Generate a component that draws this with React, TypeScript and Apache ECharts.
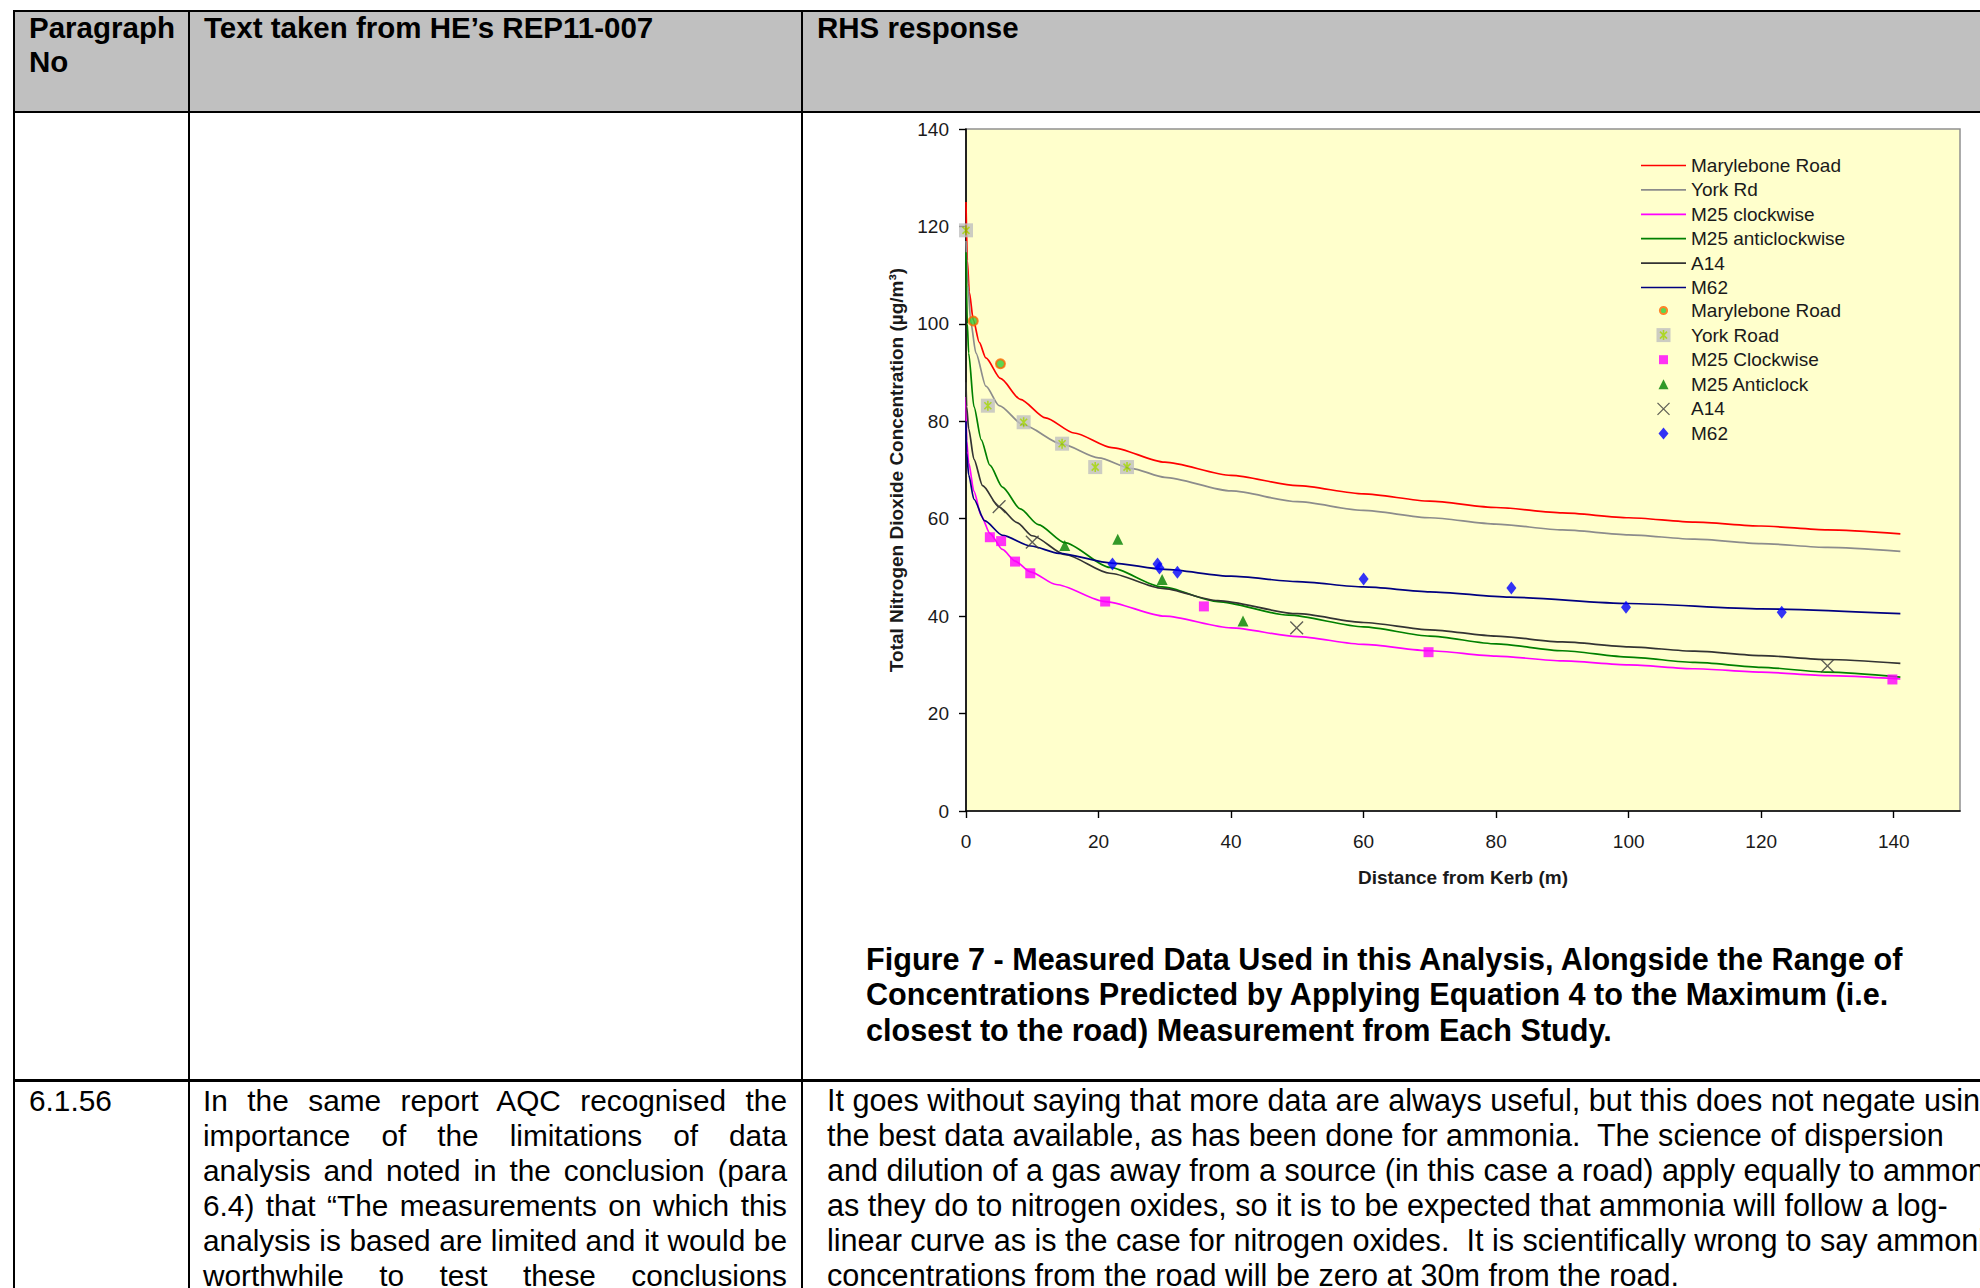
import React, { useEffect, useRef } from 'react';
import * as echarts from 'echarts';

const FONT = '"Liberation Sans", Arial, Helvetica, sans-serif';

// ---- chart data ----
const xTicks = [0, 20, 40, 60, 80, 100, 120, 140];
const lineNames = ['Marylebone Road', 'York Rd', 'M25 clockwise', 'M25 anticlockwise', 'A14', 'M62'];
const pointNames = ['Marylebone Road', 'York Road', 'M25 Clockwise', 'M25 Anticlock', 'A14', 'M62'];

const marylebCurve = [[0, 125], [0.2, 113], [0.5, 106.5], [1.1, 100.8], [2, 96.2], [3, 93], [5.2, 88.8], [8.2, 84.5], [12, 80.7], [16.3, 77.6], [22, 74.6], [30, 71.6], [40, 68.9], [50, 66.8], [60, 65.1], [70, 63.6], [80, 62.3], [90, 61.2], [100, 60.2], [110, 59.3], [120, 58.5], [130, 57.7], [141, 56.9]];
const yorkCurve = [[0, 117], [0.3, 108], [0.7, 100.5], [1.5, 94], [3, 87.2], [5, 83.2], [8.7, 79.2], [14.5, 75.3], [20, 72.5], [25, 70.3], [30, 68.5], [40, 65.7], [50, 63.5], [60, 61.7], [70, 60.2], [80, 58.9], [90, 57.7], [100, 56.7], [110, 55.8], [120, 54.9], [130, 54.1], [141, 53.3]];
const m25cwCurve = [[0, 85], [0.1, 76], [0.4, 71.5], [1.2, 65.6], [2.3, 60.6], [3.6, 57], [5.5, 53.7], [7.4, 51.3], [9.7, 49.1], [13.6, 46.5], [21, 43], [30, 40], [40, 37.6], [50, 35.8], [60, 34.2], [70, 32.9], [80, 31.8], [90, 30.8], [100, 30], [110, 29.2], [120, 28.5], [130, 27.8], [141, 27.1]];
const m25acwCurve = [[0, 114.7], [0.2, 100], [0.4, 94], [1.2, 83], [2.3, 76.2], [3.6, 71], [5.5, 66.5], [8.2, 62], [10.9, 58.8], [14.9, 55.1], [21.7, 50], [29.6, 46], [38, 43], [48.7, 40.2], [60, 37.8], [70, 35.9], [80, 34.3], [90, 32.9], [100, 31.6], [110, 30.5], [120, 29.5], [130, 28.5], [141, 27.5]];
const a14Curve = [[0, 88], [0.1, 83], [0.4, 78.5], [1.2, 72.2], [2.5, 66.8], [5, 62.4], [7.7, 59.2], [10, 56.5], [15, 52.6], [21.7, 48.8], [29.6, 45.7], [38, 43.2], [50, 40.5], [60, 38.7], [70, 37.2], [80, 35.9], [90, 34.7], [100, 33.7], [110, 32.8], [120, 31.9], [130, 31.1], [141, 30.3]];
const m62Curve = [[0, 80], [0.1, 73.5], [0.4, 69], [1.2, 64], [2.8, 59.6], [5.5, 56.6], [9.8, 54.4], [14, 52.9], [22, 50.9], [30, 49.6], [40, 48.2], [50, 47.1], [60, 46], [70, 45], [82, 43.9], [100, 42.6], [120, 41.5], [141, 40.5]];

const marylebPts = [[1.1, 100.6], [5.2, 91.8]];
const yorkPts = [[0, 119.2], [3.3, 83.2], [8.7, 79.8], [14.5, 75.4], [19.5, 70.6], [24.3, 70.6]];
const m25cwPts = [[3.6, 56.2], [5.3, 55.4], [7.4, 51.2], [9.7, 48.8], [21, 43], [35.9, 42], [69.8, 32.6], [139.8, 27]];
const m25acwPts = [[14.9, 54.5], [22.9, 55.8], [29.6, 47.5], [41.8, 39]];
const a14Pts = [[5, 62.5], [10, 55.2], [49.9, 37.6], [130, 29.8]];
const m62Pts = [[22.1, 50.7], [28.9, 50.7], [29.2, 49.9], [31.9, 49], [60, 47.6], [82.3, 45.8], [99.6, 41.8], [123.1, 40.8]];

const lineColors = ['#FF0000', '#8C8C8C', '#FF00FF', '#008000', '#333333', '#000080'];
const curves = [marylebCurve, yorkCurve, m25cwCurve, m25acwCurve, a14Curve, m62Curve];

// ---- document text ----
const captionLines = [
  'Figure 7 - Measured Data Used in this Analysis, Alongside the Range of',
  'Concentrations Predicted by Applying Equation 4 to the Maximum (i.e.',
  'closest to the road) Measurement from Each Study.',
];
const col2Lines = [
  'In the same report AQC recognised the',
  'importance of the limitations of data',
  'analysis and noted in the conclusion (para',
  '6.4) that \u201CThe measurements on which this',
  'analysis is based are limited and it would be',
  'worthwhile to test these conclusions',
];
const col3Lines = [
  'It goes without saying that more data are always useful, but this does not negate using',
  'the best data available, as has been done for ammonia.  The science of dispersion',
  'and dilution of a gas away from a source (in this case a road) apply equally to ammonia',
  'as they do to nitrogen oxides, so it is to be expected that ammonia will follow a log-',
  'linear curve as is the case for nitrogen oxides.  It is scientifically wrong to say ammonia',
  'concentrations from the road will be zero at 30m from the road.',
];

const svgUri = (w: number, h: number, body: string) =>
  'image://data:image/svg+xml;charset=utf-8,' +
  encodeURIComponent(`<svg xmlns="http://www.w3.org/2000/svg" width="${w}" height="${h}" viewBox="0 0 ${w} ${h}">` + body + '</svg>');

const yorkIcon = svgUri(16, 16, '<rect x="1" y="1" width="14" height="14" fill="#C0C0C0"/><path d="M4.5 4.5L11.5 11.5M11.5 4.5L4.5 11.5M8 3V13" stroke="#99CC00" stroke-width="1.6" fill="none"/>');
const a14Icon = svgUri(16, 16, '<path d="M2 2L14 14M14 2L2 14" stroke="#3a3a3a" stroke-width="1.3" fill="none"/>');
const maryIcon = svgUri(16, 16, '<circle cx="8" cy="8" r="3.6" fill="#33CC33" stroke="#FF6600" stroke-width="2"/>');
const cwIcon = svgUri(16, 16, '<rect x="3.5" y="3.5" width="9" height="9" fill="#FF00FF"/>');
const acwIcon = svgUri(16, 16, '<path d="M8 3L13 13H3Z" fill="#008000"/>');
const m62Icon = svgUri(16, 16, '<path d="M8 2L13 8L8 14L3 8Z" fill="#0000FF"/>');
const pointIcons = [maryIcon, yorkIcon, cwIcon, acwIcon, a14Icon, m62Icon];
const lineIcon = (c: string) => svgUri(45, 14, `<line x1="0" y1="7" x2="45" y2="7" stroke="${c}" stroke-width="1.7"/>`);

function Chart() {
  const ref = useRef<HTMLDivElement>(null);
  useEffect(() => {
    if (!ref.current) return;
    const chart = echarts.init(ref.current, undefined, { renderer: 'svg' });
    const textColor = '#1a1a1a';
    const lineSeries = lineNames.map((n, i) => ({
      name: n,
      type: 'line',
      data: curves[i],
      symbol: 'none',
      smooth: 0.25,
      smoothMonotone: 'x',
      lineStyle: { color: lineColors[i], width: 1.7 },
      itemStyle: { color: lineColors[i] },
      z: 2,
    }));
    const P = 'pt:';
    const scatterSeries = [
      { name: P + pointNames[0], type: 'scatter', data: marylebPts, symbol: 'circle', symbolSize: 9, itemStyle: { color: '#33CC33', borderColor: '#FF6600', borderWidth: 2 } },
      { name: P + pointNames[1], type: 'scatter', data: yorkPts, symbol: yorkIcon, symbolSize: 16, itemStyle: { color: '#C0C0C0' } },
      { name: P + pointNames[2], type: 'scatter', data: m25cwPts, symbol: 'rect', symbolSize: 10, itemStyle: { color: '#FF00FF' } },
      { name: P + pointNames[3], type: 'scatter', data: m25acwPts, symbol: 'triangle', symbolSize: 11, itemStyle: { color: '#008000' } },
      { name: P + pointNames[4], type: 'scatter', data: a14Pts, symbol: a14Icon, symbolSize: 17, itemStyle: { color: '#3a3a3a' } },
      { name: P + pointNames[5], type: 'scatter', data: m62Pts, symbol: 'diamond', symbolSize: [10, 13], itemStyle: { color: '#0000FF' } },
    ].map((s) => ({ ...s, z: 3 }));

    chart.setOption({
      animation: false,
      grid: {
        left: 966, top: 129, width: 994, height: 682,
        show: true, backgroundColor: '#FFFFCC', borderColor: '#909090', borderWidth: 1.5,
      },
      legend: [
        {
          data: lineNames.map((n, i) => ({ name: n, icon: lineIcon(lineColors[i]) })),
          orient: 'vertical', left: 1636, top: 151,
          itemWidth: 45, itemHeight: 14, itemGap: 5.4,
          selectedMode: false,
          textStyle: { fontFamily: FONT, fontSize: 19, color: textColor },
        },
        {
          data: pointNames.map((n, i) => ({ name: P + n, icon: pointIcons[i] })),
          orient: 'vertical', left: 1636, top: 296,
          itemWidth: 45, itemHeight: 16, itemGap: 5.6,
          selectedMode: false,
          formatter: (name: string) => name.slice(P.length),
          textStyle: { fontFamily: FONT, fontSize: 19, color: textColor },
        },
      ],
      xAxis: {
        type: 'value', min: 0, max: 150,
        name: 'Distance from Kerb (m)', nameLocation: 'middle', nameGap: 57,
        nameTextStyle: { fontFamily: FONT, fontSize: 19, fontWeight: 'bold', color: textColor },
        axisLine: { show: true, onZero: false, lineStyle: { color: '#000', width: 1.6 } },
        axisTick: { show: true, length: 7, customValues: xTicks, lineStyle: { color: '#000', width: 1.4 } },
        axisLabel: { customValues: xTicks, fontFamily: FONT, fontSize: 19, color: textColor, margin: 21 },
        splitLine: { show: false },
      },
      yAxis: {
        type: 'value', min: 0, max: 140, interval: 20,
        name: 'Total Nitrogen Dioxide Concentration (\u00B5g/m\u00B3)', nameLocation: 'middle', nameGap: 58,
        nameTextStyle: { fontFamily: FONT, fontSize: 19, fontWeight: 'bold', color: textColor },
        axisLine: { show: true, onZero: false, lineStyle: { color: '#000', width: 1.6 } },
        axisTick: { show: true, length: 7, lineStyle: { color: '#000', width: 1.4 } },
        axisLabel: { fontFamily: FONT, fontSize: 19, color: textColor, margin: 17 },
        splitLine: { show: false },
      },
      series: [...lineSeries, ...scatterSeries],
    });
    return () => chart.dispose();
  }, []);
  return <div ref={ref} style={{ position: 'absolute', left: 0, top: 0, width: 1980, height: 1288 }} />;
}

const abs = (l: number, t: number, w: number, h: number, bg: string): React.CSSProperties => ({
  position: 'absolute', left: l, top: t, width: w, height: h, background: bg,
});

export default function App() {
  const bold: React.CSSProperties = { fontFamily: FONT, fontWeight: 700, fontSize: 29.5, color: '#000' };
  const reg: React.CSSProperties = { fontFamily: FONT, fontWeight: 400, fontSize: 29.8, color: '#000' };
  return (
    <div style={{ position: 'fixed', left: 0, top: 0, width: 1980, height: 1288, overflow: 'hidden', background: '#fff' }}>
      {/* header background */}
      <div style={abs(14.5, 11.5, 1980, 99.5, '#C0C0C0')} />
      {/* borders */}
      <div style={abs(12.5, 9.5, 1980, 2, '#000')} />
      <div style={abs(12.5, 9.5, 2, 1290, '#000')} />
      <div style={abs(187.5, 9.5, 2.2, 1290, '#000')} />
      <div style={abs(801, 9.5, 2.4, 1290, '#000')} />
      <div style={abs(12.5, 110.8, 1980, 2.6, '#000')} />
      <div style={abs(12.5, 1079.2, 1980, 2.4, '#000')} />
      {/* chart picture background */}
      <div style={abs(863, 112.6, 1117, 810, '#fff')} />
      {/* header text */}
      <div style={{ ...bold, position: 'absolute', left: 29, top: 10.5, lineHeight: '34px' }}>Paragraph<br />No</div>
      <div style={{ ...bold, position: 'absolute', left: 204, top: 10.5, lineHeight: '34px', whiteSpace: 'nowrap' }}>Text taken from HE{'\u2019'}s REP11-007</div>
      <div style={{ ...bold, position: 'absolute', left: 817, top: 10.5, lineHeight: '34px', whiteSpace: 'nowrap' }}>RHS response</div>
      {/* caption */}
      <div style={{ ...bold, fontSize: 30.6, position: 'absolute', left: 866, top: 942, lineHeight: '35.3px', whiteSpace: 'nowrap' }}>
        {captionLines.map((l, i) => <div key={i}>{l}</div>)}
      </div>
      {/* second row */}
      <div style={{ ...reg, position: 'absolute', left: 29, top: 1082.5, lineHeight: '35px' }}>6.1.56</div>
      <div style={{ ...reg, position: 'absolute', left: 203, top: 1082.5, width: 584, lineHeight: '35px' }}>
        {col2Lines.map((l, i) => (
          <div key={i} style={{ textAlign: 'justify', textAlignLast: 'justify' } as React.CSSProperties}>{l}</div>
        ))}
      </div>
      <div style={{ ...reg, fontSize: 30.6, position: 'absolute', left: 827, top: 1082.5, lineHeight: '35px', whiteSpace: 'pre' }}>
        {col3Lines.map((l, i) => <div key={i}>{l}</div>)}
      </div>
      <Chart />
    </div>
  );
}
